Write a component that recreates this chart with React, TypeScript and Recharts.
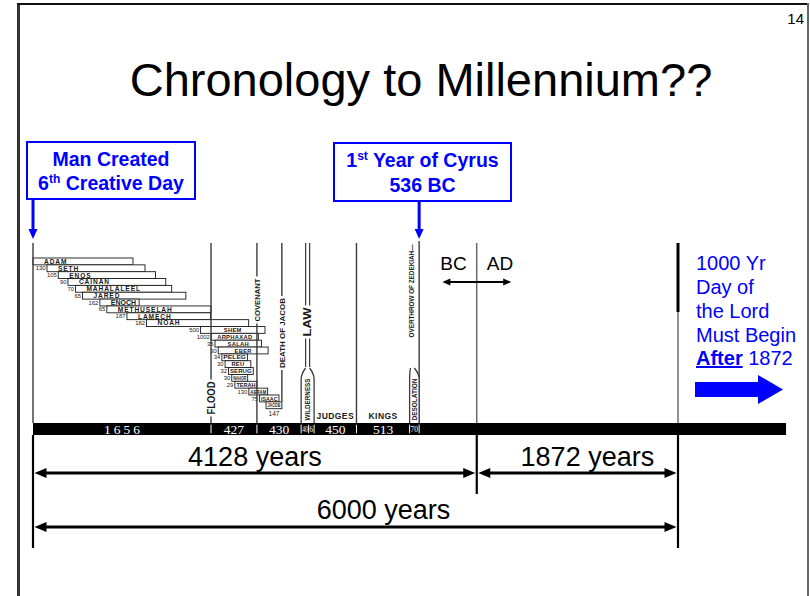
import React from 'react';
import { ComposedChart, XAxis, YAxis, ReferenceArea, ReferenceLine, ReferenceDot } from 'recharts';

const W = 810;
const H = 596;
const SANS = '"Liberation Sans", Arial, Helvetica, sans-serif';
const SERIF = '"Liberation Serif", "Times New Roman", serif';
const BLUE = '#0000FF';
const INK = '#1a1a1a';
const RULE = '#3a3a3a';

// ---------------- data ----------------
const patriarchNames = ['ADAM', 'SETH', 'ENOS', 'CAINAN', 'MAHALALEEL', 'JARED', 'ENOCH', 'METHUSELAH', 'LAMECH', 'NOAH', 'SHEM', 'ARPHAXAD', 'SALAH', 'EBER', 'PELEG', 'REU', 'SERUG', 'NAHOR', 'TERAH', 'ABRAM', 'ISAAC', 'JACOB'];
const patriarchBirthYears = [0, 130, 235, 325, 395, 460, 622, 687, 874, 1056, 1558, 1658, 1693, 1723, 1757, 1787, 1819, 1849, 1878, 2008, 2108, 2168];
const patriarchLifeSpans = [930, 912, 905, 910, 895, 962, 365, 969, 777, 950, 600, 438, 433, 464, 239, 239, 230, 148, 205, 175, 180, 147];
const begettingAgeLabels = ['', '130', '105', '90', '70', '65', '162', '65', '187', '182', '500', '1002', '35', '30', '34', '30', '32', '30', '29', '130', '75', ''];

const periodLabels = ['1656', '427', '430', '40', '6', '450', '513', '70'];
const periodLengths = [1656, 427, 430, 40, 6, 450, 513, 70];

const eraNames = ['JUDGES', 'KINGS'];
const eraPeriodIndex = [5, 6];

const eventNames = ['FLOOD', 'COVENANT', 'DEATH OF JACOB', 'LAW', 'OVERTHROW OF ZEDEKIAH—'];
const eventYears = [1656, 2083, 2315, 2513, 3592];

const spanLabels = ['4128 years', '1872 years', '6000 years'];
const spanStarts = [0, 4128, 0];
const spanEnds = [4128, 6000, 6000];

const CREATION = 0;
const CYRUS_FIRST_YEAR = 3592;
const BC_AD = 4128;
const SIX_THOUSAND = 6000;
const JUDGES_END = 3009;
const WILDERNESS = [2513, 2559];
const DESOLATION = [3522, 3592];
const BAR_END = 7005;

const periodBounds = periodLengths.reduce(
  (acc: number[], len) => {
    acc.push(acc[acc.length - 1] + len);
    return acc;
  },
  [0]
);

const patriarchRows = patriarchNames.map((name, i) => ({
  name,
  birth: patriarchBirthYears[i],
  death: patriarchBirthYears[i] + patriarchLifeSpans[i],
}));

// ---------------- layout ----------------
const MARGIN = { top: 0, right: 132, bottom: 0, left: 33 };
const PX_PER_YEAR = (W - MARGIN.left - MARGIN.right) / SIX_THOUSAND;
const ROW_PX = 6.85;
const ROW0_PX = 258;
const lv = (px: number) => (px - ROW0_PX) / ROW_PX;
const Y_DOMAIN = [lv(0), lv(H)];

const L = {
  top: lv(243),
  zedTop: lv(241),
  endThick: lv(312),
  lawNeck: lv(367),
  boxTop: lv(374),
  barTop: lv(423),
  barBot: lv(435),
  barMid: lv(429),
  eraText: lv(418.5),
  calloutFrom1: lv(199),
  calloutFrom2: lv(201),
  calloutTip: lv(239),
  bcadText: lv(270),
  bcadArrow: lv(282),
  span1Text: lv(466),
  span1Arrow: lv(473),
  span2Text: lv(519),
  span2Arrow: lv(527),
  midBottom: lv(494),
  sideBottom: lv(548),
};

// the original chart widens the short wilderness years; pixel nudges for those boundaries
const nudgePx: Record<number, number> = { 2513: -2, 2553: 1.2, 2559: 6, 3522: -2 };
const nb = (yr: number) => nudgePx[yr] || 0;

const eventLabelLayout = [
  { cy: lv(398), fs: 10, len: 33, dx: 0 },
  { cy: lv(300), fs: 8, len: 43, dx: 0 },
  { cy: lv(333), fs: 7.5, len: 70, dx: 0 },
  { cy: lv(322), fs: 10.5, len: 29, dx: 0 },
  { cy: lv(291), fs: 7, len: 93, dx: -8 },
];

const wildLeftPx = nb(WILDERNESS[0]);
const wildRightPx = (WILDERNESS[1] - WILDERNESS[0]) * PX_PER_YEAR + nb(WILDERNESS[1]);
const lawDx = (wildLeftPx + wildRightPx) / 2;
eventLabelLayout[3].dx = lawDx;

const spanTextNudge = [0, 10, 28];

// ---------------- shapes ----------------
const patriarchShape = (i: number) => (p: any) => {
  const { x, y, width, height } = p;
  const name = patriarchNames[i];
  const upper = i < 10;
  const fs = upper ? 6.6 : 5.8;
  const ls = upper ? 0.9 : 0.3;
  const natural = name.length * (fs * 0.74 + ls);
  const avail = upper ? width - 14 : width - 3;
  const squeeze = natural > avail;
  const tx = upper ? x + 11 : x + width / 2;
  const extra: any = squeeze ? { textLength: Math.max(avail, 6), lengthAdjust: 'spacingAndGlyphs' } : {};
  return (
    <g>
      <rect x={x} y={y} width={width} height={height} fill="#fff" stroke={INK} strokeWidth={0.9} />
      <text
        x={tx}
        y={y + height / 2 + fs * 0.36}
        textAnchor={upper ? 'start' : 'middle'}
        fontFamily={SANS}
        fontWeight="bold"
        fontSize={fs}
        letterSpacing={squeeze ? 0 : ls}
        fill={INK}
        {...extra}
      >
        {name}
      </text>
      {begettingAgeLabels[i] ? (
        <text x={x - 1.5} y={y + height / 2 + 2.1} textAnchor="end" fontFamily={SANS} fontSize={5.9} fill={INK}>
          {begettingAgeLabels[i]}
        </text>
      ) : null}
      {i === patriarchNames.length - 1 ? (
        <text x={x + width / 2} y={y + height + 7.5} textAnchor="middle" fontFamily={SANS} fontSize={6.5} fill={INK}>
          {String(patriarchLifeSpans[i])}
        </text>
      ) : null}
    </g>
  );
};

const rotatedLabel = (text: string, fs: number, len: number, dx: number) => (p: any) => (
  <g transform={`translate(${p.cx + dx},${p.cy}) rotate(-90)`}>
    <rect x={-len / 2 - 2} y={-fs * 0.45} width={len + 4} height={fs * 0.9} fill="#fff" />
    <text
      x={0}
      y={fs * 0.36}
      textAnchor="middle"
      fontFamily={SANS}
      fontWeight="bold"
      fontSize={fs}
      fill={INK}
      textLength={len}
      lengthAdjust="spacingAndGlyphs"
    >
      {text}
    </text>
  </g>
);

const bottleShape = (padL: number, padR: number, neckShift: number, text: string) => (p: any) => {
  const x0 = p.x + padL;
  const x1 = p.x + p.width + padR;
  const t = p.y;
  const b = p.y + p.height;
  const cx = (x0 + x1) / 2 + neckShift;
  const d = `M${x0},${b} L${x0},${t + 5} Q${x0},${t} ${cx - 2},${t - 6} M${x1},${b} L${x1},${t + 5} Q${x1},${t} ${cx + 2},${t - 6}`;
  const mid = (x0 + x1) / 2;
  const len = p.height - 7;
  return (
    <g>
      <path d={`M${x0},${b} L${x0},${t + 5} Q${x0},${t} ${cx - 2},${t - 6} L${cx + 2},${t - 6} Q${x1},${t} ${x1},${t + 5} L${x1},${b} Z`} fill="#fff" />
      <path d={d} fill="none" stroke={RULE} strokeWidth={1.3} />
      <g transform={`translate(${mid},${(t + b) / 2 + 1}) rotate(-90)`}>
        <text x={0} y={2.3} textAnchor="middle" fontFamily={SANS} fontWeight="bold" fontSize={6.5} fill={INK} textLength={len} lengthAdjust="spacingAndGlyphs">
          {text}
        </text>
      </g>
    </g>
  );
};

const lawLines = (dx: number) => (p: any) => (
  <g>
    <line x1={p.x1 + dx - 2} y1={p.y1} x2={p.x2 + dx - 2} y2={p.y2} stroke={RULE} strokeWidth={1.2} />
    <line x1={p.x1 + dx + 2} y1={p.y1} x2={p.x2 + dx + 2} y2={p.y2} stroke={RULE} strokeWidth={1.2} />
  </g>
);

const separatorShape = (n: number) => (p: any) => (
  <line x1={p.x1 + n} y1={p.y1} x2={p.x2 + n} y2={p.y2} stroke="#fff" strokeWidth={1} />
);

const doubleArrow = (color: string, sw: number, head: number, headW: number, inset: number) => (p: any) => {
  const a = Math.min(p.x1, p.x2) + inset;
  const b = Math.max(p.x1, p.x2) - inset;
  const y = p.y1;
  return (
    <g>
      <line x1={a + head - 1} y1={y} x2={b - head + 1} y2={y} stroke={color} strokeWidth={sw} />
      <polygon points={`${a},${y} ${a + head},${y - headW / 2} ${a + head},${y + headW / 2}`} fill={color} />
      <polygon points={`${b},${y} ${b - head},${y - headW / 2} ${b - head},${y + headW / 2}`} fill={color} />
    </g>
  );
};

const downArrow = (p: any) => {
  const x = p.x1;
  const y1 = Math.min(p.y1, p.y2);
  const y2 = Math.max(p.y1, p.y2);
  return (
    <g>
      <line x1={x} y1={y1} x2={x} y2={y2 - 9} stroke={BLUE} strokeWidth={3} />
      <polygon points={`${x - 4.5},${y2 - 10} ${x + 4.5},${y2 - 10} ${x},${y2}`} fill={BLUE} />
    </g>
  );
};

const vline = (key: string, x: number, y1: number, y2: number, stroke: string, sw: number) => (
  <ReferenceLine key={key} segment={[{ x, y: y1 }, { x, y: y2 }]} stroke={stroke} strokeWidth={sw} ifOverflow="visible" zIndex={400} />
);

const eventLineBottoms = [L.barTop, L.barTop, patriarchNames.length - 1, L.lawNeck, L.barTop];
const eventLineTops = [L.top, L.top, L.top, L.top, L.zedTop];

export default function App() {
  return (
    <div style={{ position: 'absolute', left: 0, top: 0, width: W, height: H, background: '#fff', fontFamily: SANS }}>
      <ComposedChart width={W} height={H} margin={MARGIN} data={patriarchRows}>
        <XAxis type="number" dataKey="birth" domain={[CREATION, SIX_THOUSAND]} hide allowDataOverflow />
        <YAxis type="number" domain={Y_DOMAIN} reversed hide allowDataOverflow />

        {patriarchNames.map((name, i) => (
          <ReferenceArea
            key={name}
            x1={patriarchBirthYears[i]}
            x2={patriarchBirthYears[i] + patriarchLifeSpans[i]}
            y1={i}
            y2={i + 1}
            ifOverflow="visible"
            zIndex={100}
            shape={patriarchShape(i)}
          />
        ))}

        <ReferenceArea
          x1={CREATION}
          x2={BAR_END}
          y1={L.barTop}
          y2={L.barBot}
          ifOverflow="visible"
          zIndex={100}
          shape={(p: any) => <rect x={p.x} y={p.y} width={p.width} height={p.height} fill="#000" />}
        />

        {vline('creation-top', CREATION, L.top, L.barTop, RULE, 1.4)}
        {eventNames.map((name, i) =>
          i === 3 ? (
            <ReferenceLine
              key={name}
              segment={[{ x: eventYears[i], y: eventLineTops[i] }, { x: eventYears[i], y: eventLineBottoms[i] }]}
              ifOverflow="visible"
              zIndex={400}
              shape={lawLines(lawDx)}
            />
          ) : (
            vline(name, eventYears[i], eventLineTops[i], eventLineBottoms[i], RULE, 1.4)
          )
        )}
        {vline('judges-kings', JUDGES_END, L.top, L.barTop, RULE, 1.4)}
        {vline('bcad-top', BC_AD, L.top, L.barTop, '#555', 1.3)}
        {vline('end-thick', SIX_THOUSAND, L.top, L.endThick, '#000', 3)}
        {vline('end-thin', SIX_THOUSAND, L.endThick, L.barTop, '#555', 1.3)}
        {vline('creation-bottom', CREATION, L.barBot, L.sideBottom, '#000', 2.2)}
        {vline('bcad-bottom', BC_AD, L.barBot, L.midBottom, '#000', 2.2)}
        {vline('end-bottom', SIX_THOUSAND, L.barBot, L.sideBottom, '#000', 2.2)}

        <ReferenceArea
          x1={WILDERNESS[0]}
          x2={WILDERNESS[1]}
          y1={L.boxTop}
          y2={L.barTop}
          ifOverflow="visible"
          zIndex={450}
          shape={bottleShape(nb(WILDERNESS[0]), nb(WILDERNESS[1]), 0, 'WILDERNESS')}
        />
        <ReferenceArea
          x1={DESOLATION[0]}
          x2={DESOLATION[1]}
          y1={L.boxTop}
          y2={L.barTop}
          ifOverflow="visible"
          zIndex={450}
          shape={bottleShape(nb(DESOLATION[0]), 0, -2, 'DESOLATION')}
        />

        {periodBounds.slice(1).map((b) => (
          <ReferenceLine
            key={`sep-${b}`}
            segment={[{ x: b, y: L.barTop + 0.25 }, { x: b, y: L.barBot - 0.25 }]}
            ifOverflow="visible"
            zIndex={500}
            shape={separatorShape(nb(b))}
          />
        ))}

        {periodLabels.map((lab, i) => {
          const a = periodBounds[i];
          const b = periodBounds[i + 1];
          const availPx = (b - a) * PX_PER_YEAR + nb(b) - nb(a);
          const dx = (nb(a) + nb(b)) / 2;
          const fs = availPx < 14 ? 9 : 13.5;
          const natural = lab.length * fs * 0.5;
          const squeeze = natural > availPx - 1.5;
          const ls = availPx > 100 ? 3 : 0;
          return (
            <ReferenceDot
              key={`per-${i}`}
              x={(a + b) / 2}
              y={L.barMid}
              ifOverflow="visible"
              zIndex={600}
              shape={(p: any) => (
                <text
                  x={p.cx + dx + ls / 2}
                  y={p.cy + fs * 0.35}
                  textAnchor="middle"
                  fontFamily={SERIF}
                  fontSize={fs}
                  letterSpacing={ls}
                  fill="#fff"
                  {...(squeeze ? { textLength: Math.max(availPx - 2, 3.5), lengthAdjust: 'spacingAndGlyphs' } : {})}
                >
                  {lab}
                </text>
              )}
            />
          );
        })}

        {eraNames.map((name, i) => {
          const k = eraPeriodIndex[i];
          const a = periodBounds[k];
          const b = periodBounds[k + 1];
          const dx = (nb(a) + nb(b)) / 2;
          return (
            <ReferenceDot
              key={name}
              x={(a + b) / 2}
              y={L.eraText}
              ifOverflow="visible"
              zIndex={600}
              shape={(p: any) => (
                <text x={p.cx + dx} y={p.cy} textAnchor="middle" fontFamily={SANS} fontWeight="bold" fontSize={8.5} letterSpacing={0.4} fill={INK}>
                  {name}
                </text>
              )}
            />
          );
        })}

        {eventNames.map((name, i) => (
          <ReferenceDot
            key={`lab-${name}`}
            x={eventYears[i]}
            y={eventLabelLayout[i].cy}
            ifOverflow="visible"
            zIndex={600}
            shape={rotatedLabel(name, eventLabelLayout[i].fs, eventLabelLayout[i].len, eventLabelLayout[i].dx)}
          />
        ))}

        {/* BC / AD */}
        <ReferenceDot
          x={BC_AD}
          y={L.bcadText}
          ifOverflow="visible"
          zIndex={600}
          shape={(p: any) => (
            <g fontFamily={SANS} fontSize={19} fill="#000">
              <text x={p.cx - 10} y={p.cy} textAnchor="end">BC</text>
              <text x={p.cx + 10} y={p.cy} textAnchor="start">AD</text>
            </g>
          )}
        />
        <ReferenceLine
          segment={[{ x: BC_AD - 320, y: L.bcadArrow }, { x: BC_AD + 320, y: L.bcadArrow }]}
          ifOverflow="visible"
          zIndex={500}
          shape={doubleArrow('#000', 2, 8, 7, 0)}
        />

        {/* spans */}
        {spanLabels.map((lab, i) => (
          <ReferenceLine
            key={`arrow-${lab}`}
            segment={[
              { x: spanStarts[i], y: i < 2 ? L.span1Arrow : L.span2Arrow },
              { x: spanEnds[i], y: i < 2 ? L.span1Arrow : L.span2Arrow },
            ]}
            ifOverflow="visible"
            zIndex={500}
            shape={doubleArrow('#000', 3, 12, 10, 1.5)}
          />
        ))}
        {spanLabels.map((lab, i) => (
          <ReferenceDot
            key={`text-${lab}`}
            x={(spanStarts[i] + spanEnds[i]) / 2}
            y={i < 2 ? L.span1Text : L.span2Text}
            ifOverflow="visible"
            zIndex={600}
            shape={(p: any) => (
              <text x={p.cx + spanTextNudge[i]} y={p.cy} textAnchor="middle" fontFamily={SANS} fontSize={27} fill="#000">
                {lab}
              </text>
            )}
          />
        ))}

        {/* callout arrows */}
        <ReferenceLine
          segment={[{ x: CREATION, y: L.calloutFrom1 }, { x: CREATION, y: L.calloutTip }]}
          ifOverflow="visible"
          zIndex={500}
          shape={downArrow}
        />
        <ReferenceLine
          segment={[{ x: CYRUS_FIRST_YEAR, y: L.calloutFrom2 }, { x: CYRUS_FIRST_YEAR, y: L.calloutTip }]}
          ifOverflow="visible"
          zIndex={500}
          shape={downArrow}
        />
      </ComposedChart>

      <svg width={W} height={H} style={{ position: 'absolute', left: 0, top: 0, pointerEvents: 'none' }}>
        {/* slide frame */}
        <line x1={18.5} y1={3} x2={18.5} y2={H} stroke="#333" strokeWidth={3} />
        <line x1={17} y1={4} x2={809} y2={4} stroke="#111" strokeWidth={2} />
        <line x1={808} y1={3} x2={808} y2={H} stroke="#666" strokeWidth={2} />
        <text x={804} y={24} textAnchor="end" fontFamily={SANS} fontSize={15} fill="#000">14</text>

        <text x={421} y={96} textAnchor="middle" fontFamily={SANS} fontSize={47} fill="#000">
          Chronology to Millennium??
        </text>

        {/* callout 1 */}
        <rect x={27} y={142} width={168} height={57} fill="#fff" stroke={BLUE} strokeWidth={2} />
        <text x={111} y={166} textAnchor="middle" fontFamily={SANS} fontSize={19.5} fontWeight="bold" fill={BLUE}>
          Man Created
        </text>
        <text x={111} y={190} textAnchor="middle" fontFamily={SANS} fontSize={19.5} fontWeight="bold" fill={BLUE}>
          6<tspan fontSize={12} dy={-7}>th</tspan>
          <tspan dy={7}> Creative Day</tspan>
        </text>

        {/* callout 2 */}
        <rect x={334} y={143} width={177} height={58} fill="#fff" stroke={BLUE} strokeWidth={2} />
        <text x={422.5} y={167} textAnchor="middle" fontFamily={SANS} fontSize={19.5} fontWeight="bold" fill={BLUE}>
          1<tspan fontSize={12} dy={-7}>st</tspan>
          <tspan dy={7}> Year of Cyrus</tspan>
        </text>
        <text x={422.5} y={191.5} textAnchor="middle" fontFamily={SANS} fontSize={19.5} fontWeight="bold" fill={BLUE}>
          536 BC
        </text>

        {/* millennium note */}
        <g fontFamily={SANS} fontSize={20} fill={BLUE}>
          <text x={696} y={270}>1000 Yr</text>
          <text x={696} y={294}>Day of</text>
          <text x={696} y={318}>the Lord</text>
          <text x={696} y={342}>Must Begin</text>
          <text x={696} y={365}>
            <tspan fontWeight="bold" textDecoration="underline" style={{ textDecoration: 'underline' }}>After</tspan>
            <tspan> 1872</tspan>
          </text>
        </g>
        <polygon points="695,382 758,382 758,375 783,389.5 758,404 758,397 695,397" fill={BLUE} />
      </svg>
    </div>
  );
}
